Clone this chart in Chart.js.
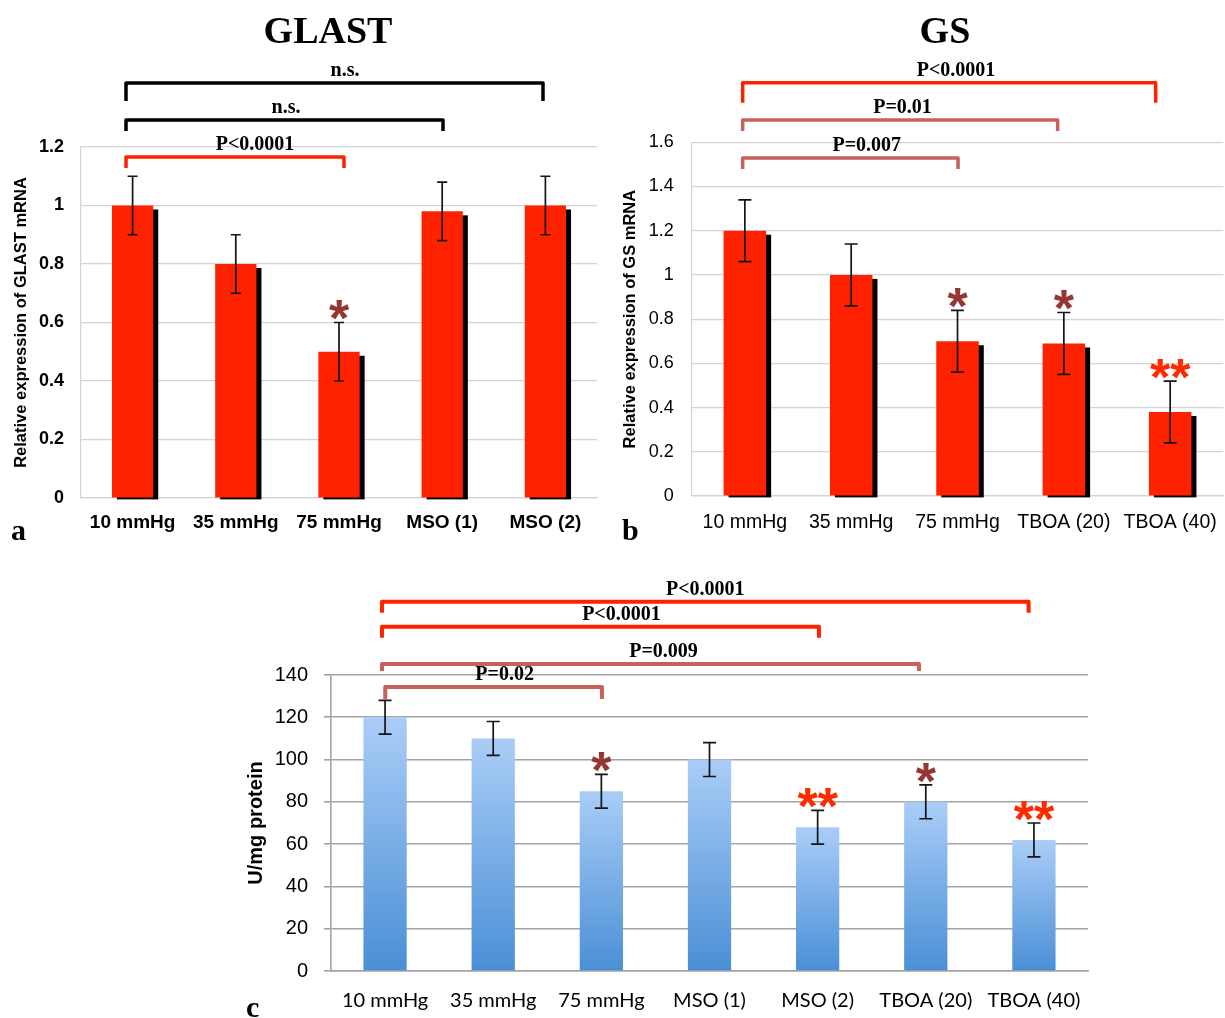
<!DOCTYPE html>
<html><head><meta charset="utf-8">
<script src="https://cdn.jsdelivr.net/npm/chart.js@4.4.1/dist/chart.umd.min.js"></script>
<style>
html,body{margin:0;padding:0;background:#fff;overflow:hidden;width:1225px;height:1018px;position:relative;}
canvas{position:absolute;}
#ca{left:0;top:0;width:612px;height:545px;}
#cb{left:612px;top:0;width:620px;height:545px;}
#cc{left:240px;top:570px;width:860px;height:448px;}
</style></head><body>
<canvas id="ca" width="612" height="545"></canvas>
<canvas id="cb" width="620" height="545"></canvas>
<canvas id="cc" width="860" height="448"></canvas>
<script>
// ---------- DATA ----------
const catsA = ['10 mmHg','35 mmHg','75 mmHg','MSO (1)','MSO (2)'];
const valsA = [1.0, 0.8, 0.5, 0.98, 1.0];
const errA  = [0.1, 0.1, 0.1, 0.1, 0.1];
const sigA  = ['', '', '*', '', ''];
const ticksA = ['0','0.2','0.4','0.6','0.8','1','1.2'];
const bracketsA = [[0,4,'n.s.'],[0,3,'n.s.'],[0,2,'P<0.0001']];

const catsB = ['10 mmHg','35 mmHg','75 mmHg','TBOA (20)','TBOA (40)'];
const valsB = [1.2, 1.0, 0.7, 0.69, 0.38];
const errB  = [0.14, 0.14, 0.14, 0.14, 0.14];
const sigB  = ['', '', '*', '*', '**'];
const ticksB = ['0','0.2','0.4','0.6','0.8','1','1.2','1.4','1.6'];
const bracketsB = [[0,4,'P<0.0001'],[0,3,'P=0.01'],[0,2,'P=0.007']];

const catsC = ['10 mmHg','35 mmHg','75 mmHg','MSO (1)','MSO (2)','TBOA (20)','TBOA (40)'];
const valsC = [120, 110, 85, 100, 68, 80, 62];
const errC  = [8, 8, 8, 8, 8, 8, 8];
const sigC  = ['', '', '*', '', '**', '*', '**'];
const ticksC = ['0','20','40','60','80','100','120','140'];
const bracketsC = [[0,6,'P<0.0001'],[0,4,'P<0.0001'],[0,5,'P=0.009'],[0,2,'P=0.02']];

// ---------- STYLE ----------
const RED = '#ff2200', MUTED = '#c8605b', DARKSTAR = '#963634', REDSTAR = '#ff2a00';
const SANS = "'Liberation Sans', Arial, sans-serif";
const SERIF = "'Liberation Serif', 'Times New Roman', serif";
const NARROW = "'Liberation Sans Narrow', 'Arial Narrow', sans-serif";
const bStyleA = [
  {y:-64, drop:18, dxL:-6.6, dxR:-2.4, dxT:10.5, color:'#000'},
  {y:-27, drop:11, dxL:-6.6, dxR:0.8, dxT:1.5, color:'#000'},
  {y:10, drop:11, dxL:-6.6, dxR:5, dxT:20, color:RED}
];
const bStyleB = [
  {y:-59.5, drop:20, dxL:-2.2, dxR:-14.5, dxT:6.8, color:RED},
  {y:-22.3, drop:11, dxL:-2.2, dxR:-6.2, dxT:2.4, color:MUTED},
  {y:15.7, drop:11, dxL:-2.2, dxR:0.5, dxT:16.4, color:MUTED}
];
const bStyleC = [
  {y:-73.3, drop:11, dxL:-3.1, dxR:-5.3, dxT:0, color:RED},
  {y:-48.3, drop:11, dxL:-3.1, dxR:1.3, dxT:21, color:RED},
  {y:-11, drop:7, dxL:-3.1, dxR:-6.8, dxT:13, color:MUTED},
  {y:12, drop:12, dxL:0.2, dxR:0.6, dxT:11, color:MUTED}
];

Chart.defaults.font.family = SANS;
Chart.defaults.color = '#000';

const annot = {
  id: 'annot',
  beforeDatasetsDraw(chart, args, o) {
    if (!o.shadow) return;
    const ctx = chart.ctx, meta = chart.getDatasetMeta(0);
    ctx.save(); ctx.fillStyle = '#000';
    meta.data.forEach(bar => {
      const p = bar.getProps(['x','y','base','width'], true);
      ctx.fillRect(p.x - p.width/2 + o.shadow.dx, p.y + o.shadow.dy, p.width, p.base - p.y - o.shadow.dy + 2);
    });
    ctx.restore();
  },
  afterDatasetsDraw(chart, args, o) {
    const ctx = chart.ctx, ys = chart.scales.y, xs = chart.scales.x;
    const vals = chart.data.datasets[0].data;
    const meta = chart.getDatasetMeta(0);
    const ca = chart.chartArea;
    ctx.save();
    // error bars
    ctx.strokeStyle = '#151515'; ctx.lineWidth = 1.7;
    meta.data.forEach((bar, i) => {
      const v = vals[i], e = o.err[i];
      const yt = ys.getPixelForValue(v + e), yb = ys.getPixelForValue(v - e);
      const x = bar.x;
      ctx.beginPath();
      ctx.moveTo(x, yt); ctx.lineTo(x, yb);
      ctx.moveTo(x - o.cap, yt); ctx.lineTo(x + o.cap, yt);
      ctx.moveTo(x - o.cap, yb); ctx.lineTo(x + o.cap, yb);
      ctx.stroke();
    });
    // significance stars
    const sz = 52;
    ctx.font = 'bold ' + sz + 'px ' + SANS;
    ctx.textAlign = 'center'; ctx.textBaseline = 'alphabetic';
    o.sig.forEach((s, i) => {
      if (!s) return;
      const yt = ys.getPixelForValue(vals[i] + o.err[i]);
      const cy = yt - 16;
      ctx.fillStyle = s === '**' ? REDSTAR : DARKSTAR;
      ctx.fillText(s, meta.data[i].x, cy + 0.57 * sz);
    });
    // brackets
    o.brackets.forEach((b, k) => {
      const st = o.bstyle[k];
      const xL = xs.getPixelForValue(b[0]) + st.dxL;
      const xR = xs.getPixelForValue(b[1]) + st.dxR;
      const yl = ca.top + st.y;
      ctx.strokeStyle = st.color; ctx.lineWidth = o.blw; ctx.lineJoin = 'round'; ctx.lineCap = 'butt';
      ctx.beginPath();
      ctx.moveTo(xL, yl + st.drop); ctx.lineTo(xL, yl); ctx.lineTo(xR, yl); ctx.lineTo(xR, yl + st.drop);
      ctx.stroke();
      ctx.fillStyle = '#000';
      ctx.font = 'bold 20px ' + SERIF;
      ctx.textAlign = 'center'; ctx.textBaseline = 'alphabetic';
      ctx.fillText(b[2], (xL + xR)/2 + st.dxT, yl - 7);
    });
    // title & panel letter
    if (o.title) {
      ctx.fillStyle = '#000';
      ctx.font = 'bold 38px ' + SERIF;
      ctx.textAlign = 'center';
      ctx.fillText(o.title, (ca.left + ca.right)/2 + o.titleDx, 43);
    }
    ctx.font = 'bold 30px ' + SERIF;
    ctx.textAlign = 'left'; ctx.fillStyle = '#000';
    ctx.fillText(o.panel, o.panelX, o.panelY);
    ctx.restore();
  }
};

function makeChart(id, cfg) {
  const barColor = cfg.gradient ? (c) => {
    const ch = c.chart; if (!ch.chartArea) return '#7fb0ea';
    const ys = ch.scales.y;
    const g = ch.ctx.createLinearGradient(0, ys.getPixelForValue(c.raw), 0, ys.getPixelForValue(0));
    g.addColorStop(0, '#aacdf7'); g.addColorStop(1, '#4a8fd6');
    return g;
  } : RED;
  return new Chart(document.getElementById(id), {
    type: 'bar',
    data: { labels: cfg.cats, datasets: [{ data: cfg.vals, backgroundColor: barColor, borderWidth: 0,
      barPercentage: 0.4, categoryPercentage: 1.0 }] },
    options: {
      responsive: false, animation: false, devicePixelRatio: 1,
      layout: { padding: cfg.pad },
      plugins: { legend: {display:false}, tooltip: {enabled:false},
        annot: { err: cfg.err, sig: cfg.sig, cap: cfg.cap, shadow: cfg.shadow, brackets: cfg.brackets,
          bstyle: cfg.bstyle, blw: cfg.blw, title: cfg.title, titleDx: cfg.titleDx,
          panel: cfg.panel, panelX: cfg.panelX, panelY: cfg.panelY } },
      scales: {
        x: { afterFit: s => { s.height = cfg.xh; },
          grid: { display:false, drawTicks:false },
          border: { display:true, color: cfg.gridColor, width: cfg.gridW },
          ticks: { padding: cfg.xpad, color:'#000', font: cfg.xfont, maxRotation:0, autoSkip:false } },
        y: { min: 0, max: cfg.max, afterFit: s => { s.width = cfg.yw; },
          grid: { color: cfg.gridColor, lineWidth: cfg.gridW, drawTicks: cfg.tickLen > 0, tickLength: cfg.tickLen },
          border: { color: cfg.gridColor, width: cfg.gridW },
          ticks: { stepSize: cfg.step, padding: cfg.ypad, color:'#000', font: cfg.yfont,
            callback: (v, i) => cfg.ticks[i] },
          title: { display:true, text: cfg.ytitle, color:'#000', font: cfg.ytfont, padding: {top: cfg.ytpad, bottom:0} } }
      }
    },
    plugins: [annot]
  });
}

makeChart('ca', { cats: catsA, vals: valsA, err: errA, sig: sigA, ticks: ticksA, brackets: bracketsA, bstyle: bStyleA,
  max: 1.2, step: 0.2, pad: {left:0, right:15, top:147, bottom:0}, xh: 47, yw: 81,
  gridColor: '#d4d4d4', gridW: 1.2, tickLen: 0, xpad: 13, ypad: 17,
  xfont: {size:19, weight:'bold', family:SANS}, yfont: {size:18, weight:'bold', family:SANS},
  ytitle: 'Relative expression of GLAST mRNA', ytfont: {size:16.5, weight:'bold', family:SANS}, ytpad: 12,
  cap: 5, shadow: {dx:5, dy:4}, blw: 3.5, title: 'GLAST', titleDx: -11, panel: 'a', panelX: 11, panelY: 540 });

makeChart('cb', { cats: catsB, vals: valsB, err: errB, sig: sigB, ticks: ticksB, brackets: bracketsB, bstyle: bStyleB,
  max: 1.6, step: 0.2, pad: {left:0, right:2.3, top:142.3, bottom:0}, xh: 49, yw: 79.7,
  gridColor: '#d4d4d4', gridW: 1.2, tickLen: 0, xpad: 15, ypad: 18,
  xfont: {size:19.5, family:SANS}, yfont: {size:18, family:SANS},
  ytitle: 'Relative expression of GS mRNA', ytfont: {size:16.5, weight:'bold', family:SANS}, ytpad: 8.5,
  cap: 6.5, shadow: {dx:5, dy:4}, blw: 3.5, title: 'GS', titleDx: -12.6, panel: 'b', panelX: 10, panelY: 540 });

makeChart('cc', { cats: catsC, vals: valsC, err: errC, sig: sigC, ticks: ticksC, brackets: bracketsC, bstyle: bStyleC,
  max: 140, step: 20, pad: {left:0, right:12, top:105, bottom:0}, xh: 47, yw: 91,
  gridColor: '#a3a3a3', gridW: 1.6, tickLen: 7, xpad: 18, ypad: 16,
  xfont: {size:20, family:"Lato, sans-serif"}, yfont: {size:20, family:NARROW},
  ytitle: 'U/mg protein', ytfont: {size:20, weight:'bold', family:SANS}, ytpad: 4,
  cap: 6.5, shadow: null, blw: 4, title: null, titleDx: 0, panel: 'c', panelX: 6, panelY: 447, gradient: true });
</script>
</body></html>
